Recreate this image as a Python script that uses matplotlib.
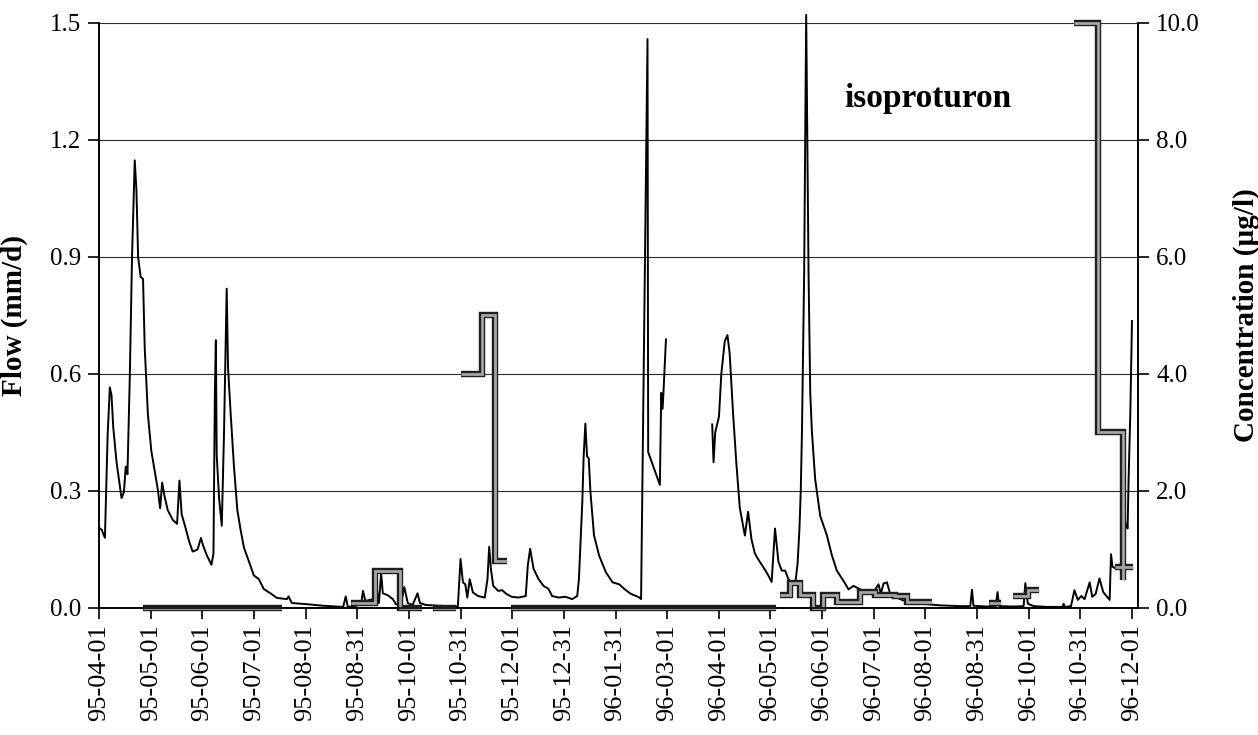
import numpy as np
import matplotlib
matplotlib.use("Agg")
import matplotlib.pyplot as plt
import matplotlib.patheffects as pe
from matplotlib.ticker import FixedLocator, FixedFormatter, FormatStrFormatter

plt.rcParams['font.family'] = ['Liberation Serif', 'DejaVu Serif']

# Date axis labels (Excel-style date category axis, evenly spaced)
tick_labels = ['95-04-01', '95-05-01', '95-06-01', '95-07-01', '95-08-01',
               '95-08-31', '95-10-01', '95-10-31', '95-12-01', '95-12-31',
               '96-01-31', '96-03-01', '96-04-01', '96-05-01', '96-06-01',
               '96-07-01', '96-08-01', '96-08-31', '96-10-01', '96-10-31',
               '96-12-01']
span_days = 610  # 95-04-01 .. 96-12-01

# Daily flow (mm/d), day counted from 95-04-01; NaN marks missing record
flow_day = [0, 1.6, 3.5, 5.1, 6.4, 7.4, 8.4, 10.4, 13.3, 14.7, 15.8, 16.8, 18.2, 19.5,
            21.1, 22.1, 23.1, 24.6, 26.0, 27.0, 28.9, 30.9, 32.8, 34.8, 36.1, 37.3,
            38.7, 40.6, 43.6, 46.1, 47.5, 48.8, 51.4, 53.3, 55.3, 58.2, 60.2, 61.5,
            63.7, 66.4, 67.6, 68.4, 69.0, 69.5, 70.9, 72.5, 73.8, 75.4, 76.2, 77.8,
            79.7, 81.7, 83.6, 85.6, 88.5, 91.4, 94.4, 97.3, 101.2, 105.1, 111.0,
            111.9, 113.9, 122.7, 132.5, 144.2, 145.7, 146.9, 152.0, 154.9, 155.9,
            157.3, 161.8, 163.7, 165.3, 166.6, 167.6, 170.5, 173.5, 175.4, 178.4,
            180.3, 182.3, 185.2, 188.1, 189.5, 193.0, 200.8, 211.9, 213.5, 214.9,
            216.3, 217.5, 218.9, 220.8, 223.8, 227.8, 229.4, 230.4, 231.4, 232.8,
            235.7, 238.0, 240.7, 243.7, 247.7, 252.0, 253.2, 254.6, 256.6, 259.6,
            262.5, 265.5, 267.5, 271.5, 275.5, 279.4, 282.4, 283.4, 285.4, 286.2,
            287.2, 288.2, 289.2, 290.2, 292.3, 295.3, 299.3, 303.3, 307.2, 310.2,
            314.2, 317.2, 319.1, 320.1, 323.9, 324.3, 331.2, 332.0, 332.8, 333.3,
            334.8, 348.0,
            362.1, 362.9, 363.9, 366.1, 367.5, 369.5, 371.1, 372.4, 374.4, 376.4,
            378.4, 381.4, 383.3, 385.3, 387.3, 389.3, 392.3, 395.2, 397.2, 399.2,
            401.2, 403.2, 405.2, 407.1, 409.1, 411.1, 412.5, 413.6, 414.4, 415.1,
            416.4, 417.6, 419.0, 420.0, 421.0, 422.9, 425.9, 429.8, 432.8, 435.7,
            439.6, 442.6, 445.5, 449.5, 453.5, 457.4, 460.3, 461.7, 463.3, 465.3,
            467.2, 469.2, 473.1, 477.1, 483.0, 488.9, 496.7, 508.6, 514.5, 515.5,
            516.4, 524.3, 529.5, 530.6, 531.5, 540.0, 546.0, 547.0, 548.5, 552.0,
            560.0, 569.0, 569.6, 570.3, 574.0, 576.0, 578.0, 580.0, 582.0, 585.0,
            586.5, 588.5, 590.8, 593.0, 596.8, 597.6, 598.5, 600.5, 602.5, 604.5,
            605.5, 606.5, 607.4, 608.0, 609.0, 610.0]
flow_mm = [0.205, 0.2, 0.179, 0.443, 0.565, 0.544, 0.463, 0.372, 0.281, 0.296, 0.362, 0.342,
           0.595, 0.899, 1.147, 1.071, 0.899, 0.848, 0.843, 0.666, 0.494, 0.402, 0.352,
           0.301, 0.255, 0.321, 0.286, 0.25, 0.225, 0.215, 0.326, 0.24, 0.2, 0.169, 0.144,
           0.149, 0.179, 0.159, 0.134, 0.11, 0.139, 0.544, 0.686, 0.392, 0.281, 0.21,
           0.443, 0.818, 0.615, 0.494, 0.362, 0.25, 0.2, 0.154, 0.119, 0.083, 0.073,
           0.048, 0.037, 0.025, 0.022, 0.029, 0.012, 0.009, 0.005, 0.002, 0.029, 0.002,
           0.005, 0.012, 0.043, 0.017, 0.022, 0.058, 0.012, 0.088, 0.037, 0.032, 0.022,
           0.009, 0.012, 0.053, 0.012, 0.007, 0.037, 0.012, 0.007, 0.005, 0.003, 0.125,
           0.065, 0.06, 0.026, 0.073, 0.039, 0.03, 0.026, 0.073, 0.156, 0.1, 0.056,
           0.043, 0.045, 0.035, 0.028, 0.026, 0.03, 0.108, 0.151, 0.1, 0.073, 0.056,
           0.048, 0.03, 0.026, 0.028, 0.022, 0.03, 0.073, 0.272, 0.388, 0.472, 0.388,
           0.383, 0.297, 0.186, 0.134, 0.091, 0.065, 0.06, 0.048, 0.035, 0.03, 0.026,
           0.022, 1.458, 0.399, 0.315, 0.551, 0.51, 0.55, 0.688, np.nan,
           0.47, 0.373, 0.45, 0.49, 0.6, 0.683, 0.699, 0.653, 0.5, 0.368, 0.256, 0.185,
           0.246, 0.175, 0.139, 0.124, 0.104, 0.083, 0.066, 0.203, 0.118, 0.095, 0.095,
           0.073, 0.065, 0.06, 0.112, 0.2, 0.3, 0.45, 0.856, 1.52, 0.856, 0.55, 0.45,
           0.33, 0.235, 0.186, 0.134, 0.095, 0.069, 0.047, 0.056, 0.047, 0.039, 0.04,
           0.06, 0.036, 0.062, 0.065, 0.035, 0.03, 0.022, 0.015, 0.013, 0.009, 0.006,
           0.004, 0.004, 0.046, 0.005, 0.003, 0.004, 0.04, 0.004, 0.003, 0.004, 0.063,
           0.01, 0.004, 0.002, 0.002, 0.01, 0.002, 0.004, 0.045, 0.02, 0.03, 0.022,
           0.065, 0.028, 0.035, 0.075, 0.04, 0.02, 0.137, 0.105, 0.1, 0.11, 0.09, 0.23,
           0.21, 0.203, 0.33, 0.5, 0.735]

# Isoproturon concentration (ug/l) per composite sampling period; NaN separates periods
conc_day = [26, 108, np.nan,
            149, 163, 163, 177.5, 177.5, 191, np.nan,
            197, 211, np.nan,
            213.5, 226, 226, 233.8, 233.8, 240.7, np.nan,
            243, 400, np.nan,
            402.3, 408.2, 408.2, 414, 414, 421.9, 421.9, 427.8, 427.8, 435.7, 435.7,
            449.5, 449.5, 458.4, 458.4, 470, 470, 477, 477, 492, np.nan,
            525.3, 532.6, np.nan,
            539.7, 548.5, 548.5, 554.8, np.nan,
            576, 589.8, 589.8, 604.4, 604.4, np.nan,
            600, 610.8]
conc_ugl = [0, 0, np.nan,
            0.08, 0.08, 0.62, 0.62, 0, 0, np.nan,
            0, 0, np.nan,
            4.0, 4.0, 5.0, 5.0, 0.8, 0.8, np.nan,
            0, 0, np.nan,
            0.21, 0.21, 0.415, 0.415, 0.22, 0.22, 0.0, 0.0, 0.21, 0.21, 0.1,
            0.1, 0.27, 0.27, 0.22, 0.22, 0.2, 0.2, 0.1, 0.1, np.nan,
            0.08, 0.08, np.nan,
            0.2, 0.2, 0.3, 0.3, np.nan,
            10.0, 10.0, 3.0, 3.0, 0.47, np.nan,
            0.69, 0.69]

W, H = 1258, 735
fig = plt.figure(figsize=(W / 100, H / 100), dpi=100)
x0, x1, ytop, ybot = 99, 1138, 22.7, 607.7
ax = fig.add_axes([x0 / W, 1 - ybot / H, (x1 - x0) / W, (ybot - ytop) / H])
ax2 = ax.twinx()

px_per_day = (1132 - x0) / span_days
ax.set_xlim(0, (x1 - x0) / px_per_day)
ax.set_ylim(0, 1.5)
ax2.set_ylim(0, 10)

# horizontal gridlines on the flow scale
ax.set_yticks(np.arange(0, 1.51, 0.3))
ax.yaxis.set_major_formatter(FormatStrFormatter('%.1f'))
ax.grid(axis='y', color='#2a2a2a', lw=0.8)
ax.set_axisbelow(True)
ax2.set_yticks(np.arange(0, 10.1, 2))
ax2.yaxis.set_major_formatter(FormatStrFormatter('%.1f'))

ticks = np.linspace(0, span_days, len(tick_labels))
ax.xaxis.set_major_locator(FixedLocator(ticks))
ax.xaxis.set_major_formatter(FixedFormatter(tick_labels))

for a in (ax, ax2):
    for s in a.spines.values():
        s.set_linewidth(1.2)
        s.set_color('black')
    a.spines['top'].set_visible(False)
ax.tick_params(axis='x', direction='out', length=8, width=1.2, pad=4,
               labelsize=19, labelrotation=90)
ax.tick_params(axis='y', direction='out', length=8, width=1.2, pad=5, labelsize=18)
ax2.tick_params(axis='y', direction='out', length=8, width=1.2, pad=5, labelsize=18)

ax.plot(flow_day, flow_mm, color='black', lw=1.4, clip_on=False, zorder=3)
# concentration: grey band with dark edges, kept beneath the axis line
ax2.plot(conc_day, conc_ugl, color='#a4a4a4', lw=2.0, clip_on=False, zorder=2.2,
         solid_joinstyle='miter', solid_capstyle='butt',
         path_effects=[pe.Stroke(linewidth=4.6, foreground='#1e1e1e'), pe.Normal()])

ax.set_ylabel('Flow (mm/d)', fontsize=21, fontweight='bold')
ax.yaxis.set_label_coords(-0.068, 0.5)
ax2.set_ylabel('Concentration (\u00b5g/l)', fontsize=21, fontweight='bold')
ax2.yaxis.set_label_coords(1.091, 0.5)

ax2.text(440, 8.7, 'isoproturon', fontsize=24, fontweight='bold', ha='left', va='center')

fig.savefig('out.png', dpi=100)
